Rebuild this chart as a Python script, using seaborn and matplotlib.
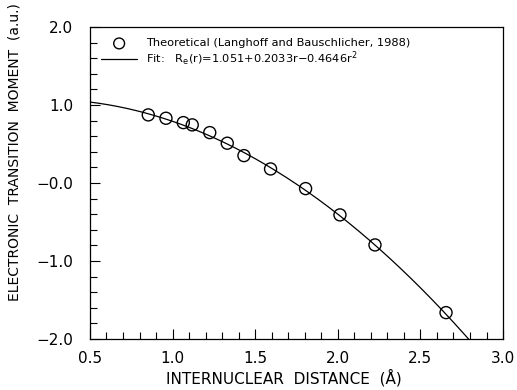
import numpy as np
import pandas as pd
import seaborn as sns
import matplotlib.pyplot as plt
from matplotlib.ticker import MultipleLocator, FixedLocator, FixedFormatter

# Valores teóricos
r_theory = [0.853, 0.960, 1.065, 1.119, 1.225, 1.331, 1.432, 1.593, 1.805, 2.013, 2.225, 2.655]
m_theory = [0.872, 0.829, 0.773, 0.744, 0.645, 0.509, 0.350, 0.179, -0.073, -0.410, -0.795, -1.663]

# Coeficientes do ajuste quadrático (da legenda)
fit_coef = [1.051, 0.2033, -0.4646]

x_ticks = [0.5, 1.0, 1.5, 2.0, 2.5, 3.0]
x_labels = ["0.5", "1.0", "1.5", "2.0", "2.5", "3.0"]
y_ticks = [2.0, 1.0, 0.0, -1.0, -2.0]
y_labels = ["2.0", "1.0", "\u22120.0", "\u22121.0", "\u22122.0"]

df = pd.DataFrame({"r": r_theory, "m": m_theory})
r_fit = np.linspace(0.5, 2.85, 300)
fit = pd.DataFrame({"r": r_fit,
                    "m": fit_coef[0] + fit_coef[1] * r_fit + fit_coef[2] * r_fit ** 2})

sns.set_style("ticks")
plt.rcParams['font.family'] = ['DejaVu Sans']
plt.rcParams['text.color'] = 'black'
plt.rcParams['axes.labelcolor'] = 'black'

fig = plt.figure(figsize=(5.17, 3.9), dpi=100)
ax = fig.add_axes([0.174, 0.131, 0.799, 0.80])

sns.lineplot(data=fit, x="r", y="m", ax=ax, color="black", linewidth=0.9,
             label="Fit:   R$_\\mathregular{e}$(r)=1.051+0.2033r\u22120.4646r$^\\mathregular{2}$")
sns.scatterplot(data=df, x="r", y="m", ax=ax, marker="o", s=75,
                facecolor="none", edgecolor="black", linewidth=1.0,
                label="Theoretical (Langhoff and Bauschlicher, 1988)")

ax.set_xlim(0.5, 3.0)
ax.set_ylim(-2.0, 2.0)
ax.xaxis.set_major_locator(FixedLocator(x_ticks))
ax.xaxis.set_major_formatter(FixedFormatter(x_labels))
ax.yaxis.set_major_locator(FixedLocator(y_ticks))
ax.yaxis.set_major_formatter(FixedFormatter(y_labels))
ax.xaxis.set_minor_locator(MultipleLocator(0.1))
ax.yaxis.set_minor_locator(MultipleLocator(0.2))
ax.tick_params(which="both", direction="in", top=False, right=False,
               width=0.8, color="black", labelcolor="black", labelsize=11)
ax.tick_params(axis="x", which="major", pad=9)
ax.tick_params(axis="y", which="major", pad=12)
ax.tick_params(which="major", length=7)
ax.tick_params(which="minor", length=5)

for s in ax.spines.values():
    s.set_linewidth(0.9)
    s.set_color("black")

ax.set_xlabel("INTERNUCLEAR  DISTANCE  (\u00c5)", fontsize=11)
ax.xaxis.set_label_coords(0.47, -0.097)
ax.set_ylabel("ELECTRONIC  TRANSITION  MOMENT  (a.u.)", fontsize=10)
ax.yaxis.set_label_coords(-0.165, 0.6)

handles, labels = ax.get_legend_handles_labels()
ax.legend(handles[::-1], labels[::-1], loc="upper left", bbox_to_anchor=(0.01, 0.985),
          frameon=False, fontsize=8.2, handlelength=3.2, handletextpad=0.8,
          labelspacing=0.15, borderaxespad=0.2, markerscale=0.9)

plt.savefig("out.png", dpi=100)
